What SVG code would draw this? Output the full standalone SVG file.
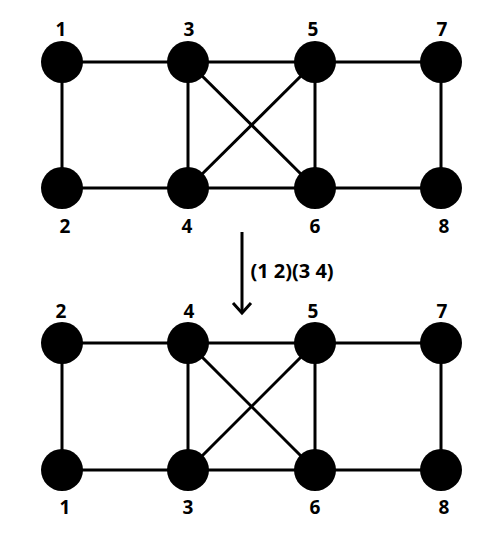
<svg xmlns="http://www.w3.org/2000/svg" width="500" height="543" viewBox="0 0 500 543">
<style>
.e{stroke:#000;stroke-width:3;fill:none}
.n{fill:#000}
.l{font-family:"Open Sans","Liberation Sans",sans-serif;font-weight:bold;font-size:19px;text-anchor:middle;fill:#000}
.a{font-family:"Open Sans","Liberation Sans",sans-serif;font-weight:bold;font-size:20px;text-anchor:middle;fill:#000}
</style>
<rect width="500" height="543" fill="#fff"/>
<g id="connectors">
<line class="e" x1="62" y1="62" x2="188" y2="62"/>
<line class="e" x1="62" y1="62" x2="62" y2="188"/>
<line class="e" x1="62" y1="188" x2="188" y2="188"/>
<line class="e" x1="188" y1="62" x2="188" y2="188"/>
<line class="e" x1="188" y1="62" x2="315" y2="62"/>
<line class="e" x1="188" y1="188" x2="315" y2="188"/>
<line class="e" x1="188" y1="62" x2="315" y2="188"/>
<line class="e" x1="188" y1="188" x2="315" y2="62"/>
<line class="e" x1="315" y1="62" x2="315" y2="188"/>
<line class="e" x1="315" y1="62" x2="441" y2="62"/>
<line class="e" x1="315" y1="188" x2="441" y2="188"/>
<line class="e" x1="441" y1="62" x2="441" y2="188"/>
<line class="e" x1="62" y1="343" x2="188" y2="343"/>
<line class="e" x1="62" y1="343" x2="62" y2="470"/>
<line class="e" x1="62" y1="470" x2="188" y2="470"/>
<line class="e" x1="188" y1="343" x2="188" y2="470"/>
<line class="e" x1="188" y1="343" x2="315" y2="343"/>
<line class="e" x1="188" y1="470" x2="315" y2="470"/>
<line class="e" x1="188" y1="343" x2="315" y2="470"/>
<line class="e" x1="188" y1="470" x2="315" y2="343"/>
<line class="e" x1="315" y1="343" x2="315" y2="470"/>
<line class="e" x1="315" y1="343" x2="441" y2="343"/>
<line class="e" x1="315" y1="470" x2="441" y2="470"/>
<line class="e" x1="441" y1="343" x2="441" y2="470"/>
<g id="arrow">
<line class="e" x1="242" y1="232" x2="242" y2="313"/>
<polyline class="e" points="233,303 242,313 251,303"/>
<text class="a" x="292" y="278">(1 2)(3 4)</text>
</g>
</g>
<g id="t1"><circle class="n" cx="62" cy="62" r="21"/><text class="l" x="61" y="36">1</text></g>
<g id="t2"><circle class="n" cx="62" cy="188" r="21"/><text class="l" x="65" y="233">2</text></g>
<g id="t3"><circle class="n" cx="188" cy="62" r="21"/><text class="l" x="189" y="36">3</text></g>
<g id="t4"><circle class="n" cx="188" cy="188" r="21"/><text class="l" x="187" y="233">4</text></g>
<g id="t5"><circle class="n" cx="315" cy="62" r="21"/><text class="l" x="313" y="36">5</text></g>
<g id="t6"><circle class="n" cx="315" cy="188" r="21"/><text class="l" x="315" y="233">6</text></g>
<g id="t7"><circle class="n" cx="441" cy="62" r="21"/><text class="l" x="442" y="36">7</text></g>
<g id="t8"><circle class="n" cx="441" cy="188" r="21"/><text class="l" x="444" y="233">8</text></g>
<g id="b2"><circle class="n" cx="62" cy="343" r="21"/><text class="l" x="61" y="318">2</text></g>
<g id="b1"><circle class="n" cx="62" cy="470" r="21"/><text class="l" x="65" y="514">1</text></g>
<g id="b4"><circle class="n" cx="188" cy="343" r="21"/><text class="l" x="189" y="318">4</text></g>
<g id="b3"><circle class="n" cx="188" cy="470" r="21"/><text class="l" x="188" y="514">3</text></g>
<g id="b5"><circle class="n" cx="315" cy="343" r="21"/><text class="l" x="313" y="318">5</text></g>
<g id="b6"><circle class="n" cx="315" cy="470" r="21"/><text class="l" x="315" y="514">6</text></g>
<g id="b7"><circle class="n" cx="441" cy="343" r="21"/><text class="l" x="442" y="318">7</text></g>
<g id="b8"><circle class="n" cx="441" cy="470" r="21"/><text class="l" x="444" y="514">8</text></g>
</svg>
